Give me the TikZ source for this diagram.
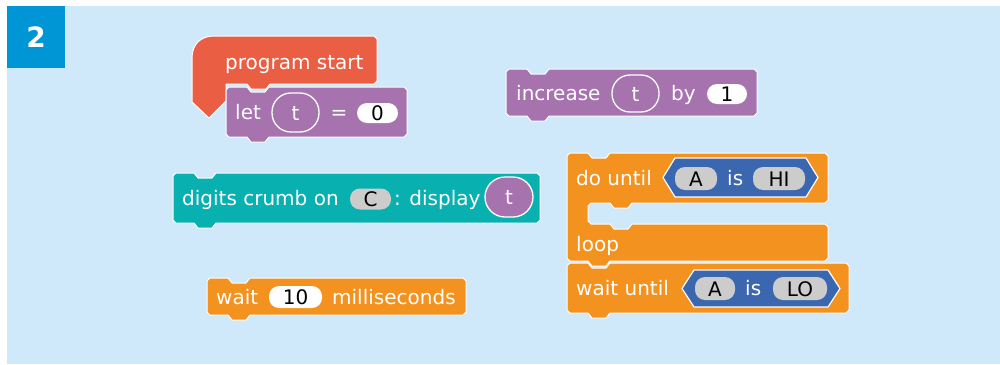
\documentclass[tikz,border=0pt]{standalone}
\usepackage{fontspec}
\setmainfont{DejaVu Sans}
\definecolor{bg}{HTML}{D0E9FA}
\definecolor{badge}{HTML}{0096D6}
\definecolor{hatred}{HTML}{EA5E43}
\definecolor{varpurple}{HTML}{A673AF}
\definecolor{crumbteal}{HTML}{08B0AF}
\definecolor{ctrlorange}{HTML}{F3921E}
\definecolor{boolblue}{HTML}{3A67B0}
\definecolor{pillgray}{HTML}{CCCCCC}
% stack block: style, left x, top y, width, height (notch at 21..43 from the left edge)
\newcommand\stackblock[5]{%
  \path[#1,shift={(#2,#3)}] (0,3) -- (3,0) -- (21,0) -- (25,5) -- (39,5) -- (43,0)
    -- ({#4-3},0) -- (#4,3) -- (#4,{#5-3}) -- ({#4-3},#5) -- (43,#5) -- (39,{#5+5})
    -- (25,{#5+5}) -- (21,#5) -- (3,#5) -- (0,{#5-3}) -- cycle;}
% boolean hexagon: left x, top y, right x, bottom y
\newcommand\boolhex[4]{%
  \path[hexbox] (#1,{(#2+#4)/2}) -- ({#1+12},#2) -- ({#3-12},#2) -- (#3,{(#2+#4)/2})
    -- ({#3-12},#4) -- ({#1+12},#4) -- cycle;}
\tikzset{
  blk/.style={fill=#1, draw=white, line width=1pt, line join=round},
  hexbox/.style={fill=boolblue, draw=white, line width=1.2pt},
  lbl/.style={anchor=west, inner sep=0pt, text height=15pt, text depth=0pt,
    font=\fontsize{20}{20}\selectfont, text=white},
  pill/.style={fill=#1, rounded corners=10pt, inner sep=0pt, minimum height=20pt,
    text height=15pt, text depth=0pt, font=\fontsize{20}{20}\selectfont, text=black},
  varoval/.style={fill=varpurple, draw=white, line width=1.3pt, rounded corners=#1,
    inner sep=0pt, text height=15pt, text depth=0pt,
    font=\fontsize{20}{20}\selectfont, text=white},
}
\begin{document}
\begin{tikzpicture}[x=1pt,y=-1pt]
\useasboundingbox (0,0) rectangle (1000,364);
\fill[bg] (7,6) rectangle (1000,364);
\fill[badge] (7,6) rectangle (65,68);
\node[text=white, font=\fontsize{28}{28}\selectfont\bfseries] (num) at (36,37) {2};

% hat block
\path[blk=hatred] (192,102) -- (192,58) .. controls (192,45) and (200,36) .. (214,36)
  -- (374,36) -- (377,39) -- (377,81) -- (374,84) -- (270,84) -- (266,89) -- (251,89)
  -- (247,84) -- (226,84) -- (226,101) -- (209,118) -- cycle;
\node[lbl] (tstart) at (225,62) {program start};

% let t = 0
\stackblock{blk=varpurple}{226}{87}{181}{50}
\node[lbl] (tlet) at (235,112) {let};
\node[varoval=19pt, minimum width=47pt, minimum height=39pt] (vlet) at (295.5,112.5) {t};
\node[lbl, anchor=center] (teq) at (339,112) {=};
\node[pill=white, minimum width=41pt] (vzero) at (377.5,113) {0};

% increase t by 1
\stackblock{blk=varpurple}{506}{69}{251}{47}
\node[lbl] (tinc) at (516,93) {increase};
\node[varoval=18pt, minimum width=47pt, minimum height=37pt] (vinc) at (635.5,93.5) {t};
\node[lbl] (tby) at (671,93) {by};
\node[pill=white, minimum width=40pt] (vone) at (727,94) {1};

% digits crumb
\stackblock{blk=crumbteal}{173}{173}{367}{50}
\node[lbl] (tdig) at (182,198) {digits crumb on};
\node[pill=pillgray, minimum width=41pt, minimum height=21pt] (vc) at (370.5,199) {C};
\node[lbl] (tdisp) at (394,198) {: display};
\node[varoval=20pt, minimum width=48pt, minimum height=40pt] (vdisp) at (509,197) {t};

% do until ... loop
\path[blk=ctrlorange] (567,156) -- (570,153) -- (588,153) -- (592,158) -- (606,158)
  -- (610,153) -- (825,153) -- (828,156) -- (828,200) -- (825,203) -- (632,203)
  -- (628,208) -- (614,208) -- (610,203) -- (591,203) -- (588,206) -- (588,221)
  -- (591,224) -- (610,224) -- (614,229) -- (628,229) -- (632,224) -- (825,224)
  -- (828,227) -- (828,258) -- (825,261) -- (610,261) -- (606,266) -- (592,266)
  -- (588,261) -- (570,261) -- (567,258) -- cycle;
\node[lbl] (tdo) at (576,178) {do until};
\boolhex{663}{158}{818}{197}
\node[pill=pillgray, minimum width=42pt, minimum height=23pt] (vahi) at (696,178.5) {A};
\node[lbl] (tishi) at (727,178) {is};
\node[pill=pillgray, minimum width=52pt, minimum height=23pt] (vhi) at (779,178.5) {HI};
\node[lbl] (tloop) at (576,244) {loop};

% wait until
\stackblock{blk=ctrlorange}{567}{263}{282}{50}
\node[lbl] (twu) at (576,288) {wait until};
\boolhex{682}{270}{840}{307}
\node[pill=pillgray, minimum width=40pt, minimum height=23pt] (valo) at (715,288.5) {A};
\node[lbl] (tislo) at (745,288) {is};
\node[pill=pillgray, minimum width=54pt, minimum height=23pt] (vlo) at (800,288.5) {LO};

% wait 10 milliseconds
\stackblock{blk=ctrlorange}{207}{278}{259}{37}
\node[lbl] (twait) at (216,297) {wait};
\node[pill=white, minimum width=53pt, minimum height=22pt] (vten) at (295.5,297) {10};
\node[lbl] (tms) at (332,297) {milliseconds};
\end{tikzpicture}
\end{document}
